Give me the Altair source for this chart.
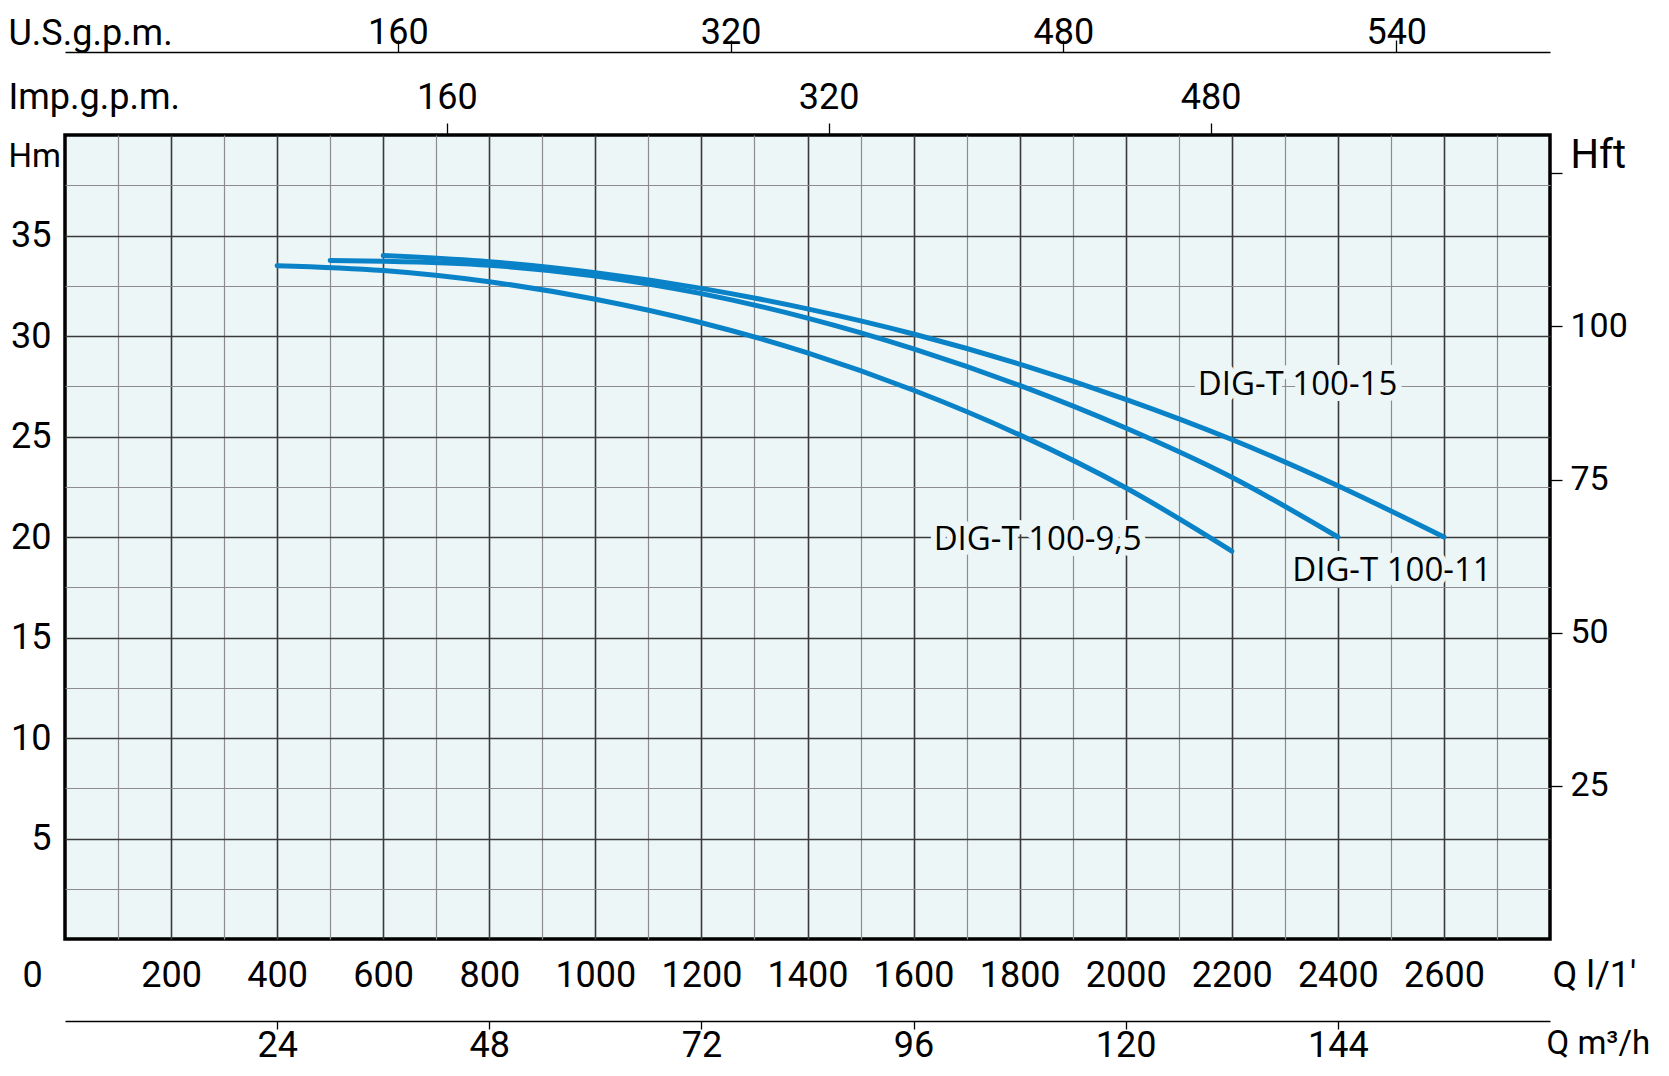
import altair as alt
import pandas as pd

# ---------------- data ----------------
# Q in l/min, H in m
q_95 = [400, 600, 800, 1000, 1200, 1400, 1600, 1800, 2000, 2200]
h_95 = [33.5, 33.26, 32.7, 31.83, 30.66, 29.16, 27.3, 25.08, 22.45, 19.3]
q_11 = [500, 600, 800, 1000, 1200, 1400, 1600, 1800, 2000, 2200, 2400]
h_11 = [33.76, 33.72, 33.52, 32.99, 32.11, 30.89, 29.36, 27.54, 25.42, 22.97, 20.0]
q_15 = [600, 800, 1000, 1200, 1400, 1600, 1800, 2000, 2200, 2400, 2600]
h_15 = [34.0, 33.7, 33.15, 32.37, 31.35, 30.1, 28.6, 26.85, 24.85, 22.55, 20.0]

label_text = ["DIG-T 100-15", "DIG-T 100-11", "DIG-T 100-9,5"]
label_q = [2324, 2502, 1834]
label_h = [27.55, 18.33, 19.86]

# axis ticks / labels
q_grid = list(range(0, 2801, 100))          # l/min grid, labels every 200
h_grid = [i * 2.5 for i in range(17)]       # m grid, labels every 5
m3_ticks = [24, 48, 72, 96, 120, 144]
imp_ticks = [160, 320, 480]
us_ticks = [160, 320, 480, 640]
us_labels = ["160", "320", "480", "540"]
ft_ticks = [25, 50, 75, 100, 125]

Q_MAX = 2800
H_MAX = 40
M3_MAX = Q_MAX * 0.06
IMP_MAX = Q_MAX / 4.5
US_MAX = Q_MAX / 3.922
FT_MAX = H_MAX * 3.28084

# ---------------- style ----------------
W, H = 1485, 804
BLUE = "#0a82c8"
BG = "#edf6f6"
NUM_FONT = "Roboto"
LBL_FONT = "Open Sans"
FS = 36

curve_df = pd.concat([
    pd.DataFrame({"q": q_95, "h": h_95, "model": "9,5"}),
    pd.DataFrame({"q": q_11, "h": h_11, "model": "11"}),
    pd.DataFrame({"q": q_15, "h": h_15, "model": "15"}),
])
label_df = pd.DataFrame({"q": label_q, "h": label_h, "txt": label_text})

xs = alt.Scale(domain=[0, Q_MAX], nice=False, zero=False)
ys = alt.Scale(domain=[0, H_MAX], nice=False, zero=False)

x_axis = alt.Axis(
    orient="bottom", values=q_grid, grid=True, ticks=False, domain=False, format="d",
    gridColor={"condition": {"test": "datum.value % 200 === 0", "value": "#3a3a3a"}, "value": "#8c8c8c"},
    gridWidth={"condition": {"test": "datum.value % 200 === 0", "value": 1.6}, "value": 1.2},
    gridOpacity={"condition": {"test": "datum.value === 0 || datum.value === 2800", "value": 0}, "value": 1},
    labelExpr="datum.value % 200 === 0 && datum.value < 2800 ? datum.label : ''",
    labelOffset={"condition": {"test": "datum.value === 0", "value": -33}, "value": 0},
    labelFont=NUM_FONT, labelFontSize=FS, labelColor="black", labelPadding=36,
    labelBaseline="middle", labelFlush=False, labelOverlap=False,
    title="Q l/1′", titleX=1487, titleY=36, titleAlign="left", titleBaseline="middle",
    titleAngle=0, titleFont=NUM_FONT, titleFontSize=FS, titleFontWeight="normal", titleColor="black",
)
y_axis = alt.Axis(
    orient="left", values=h_grid, grid=True, ticks=False, domain=False,
    gridColor={"condition": {"test": "datum.value % 5 === 0", "value": "#3a3a3a"}, "value": "#8c8c8c"},
    gridWidth={"condition": {"test": "datum.value % 5 === 0", "value": 1.6}, "value": 1.2},
    gridOpacity={"condition": {"test": "datum.value === 0 || datum.value === 40", "value": 0}, "value": 1},
    labelExpr="datum.value % 5 === 0 && datum.value > 0 && datum.value < 40 ? datum.label : ''",
    labelFont=NUM_FONT, labelFontSize=FS, labelColor="black", labelPadding=14,
    labelFlush=False, labelOverlap=False,
    title="Hm", titleX=-57, titleY=21, titleAlign="left", titleBaseline="middle", titleAngle=0,
    titleFont=NUM_FONT, titleFontSize=33, titleFontWeight="normal", titleColor="black",
)

halo = alt.Chart(label_df).mark_text(
    font=LBL_FONT, fontSize=33, align="center", baseline="middle",
    fill=BG, stroke=BG, strokeWidth=12, strokeJoin="round",
).encode(x=alt.X("q:Q", scale=xs), y=alt.Y("h:Q", scale=ys), text="txt:N")

curves = alt.Chart(curve_df).mark_line(
    color=BLUE, strokeWidth=5, strokeCap="round", interpolate="monotone"
).encode(
    x=alt.X("q:Q", scale=xs, axis=x_axis),
    y=alt.Y("h:Q", scale=ys, axis=y_axis),
    detail="model:N",
)

labels = alt.Chart(label_df).mark_text(
    font=LBL_FONT, fontSize=33, align="center", baseline="middle", color="black",
).encode(x=alt.X("q:Q", scale=xs), y=alt.Y("h:Q", scale=ys), text="txt:N")

main = alt.layer(halo, curves, labels)


def axis_common(**kw):
    base = dict(
        grid=False, labelFont=NUM_FONT, labelColor="black", labelFlush=False,
        labelOverlap=False, tickColor="black", tickWidth=1.3, tickSize=12,
        titleFont=NUM_FONT, titleFontWeight="normal", titleColor="black", titleAngle=0,
        titleAlign="left", titleBaseline="middle",
    )
    base.update(kw)
    return alt.Axis(**base)


us_expr = "datum.label"
for v, l in zip(us_ticks, us_labels):
    us_expr = f"datum.value === {v} ? '{l}' : ({us_expr})"

us_layer = alt.Chart(pd.DataFrame({"g": us_ticks})).mark_point(opacity=0).encode(
    x=alt.X("g:Q", scale=alt.Scale(domain=[0, US_MAX], nice=False, zero=False),
            axis=axis_common(orient="top", offset=83, values=us_ticks, labelExpr=us_expr,
                             domain=True, domainColor="black", domainWidth=1.5,
                             labelFontSize=FS, labelPadding=8, labelBaseline="middle",
                             title="U.S.g.p.m.", titleX=-57, titleY=-19, titleFontSize=FS))
)

imp_layer = alt.Chart(pd.DataFrame({"g": imp_ticks})).mark_point(opacity=0).encode(
    x=alt.X("g:Q", scale=alt.Scale(domain=[0, IMP_MAX], nice=False, zero=False),
            axis=axis_common(orient="top", offset=0, values=imp_ticks, domain=False,
                             labelFontSize=FS, labelPadding=26, labelBaseline="middle",
                             title="Imp.g.p.m.", titleX=-57, titleY=-38, titleFontSize=FS))
)

m3_layer = alt.Chart(pd.DataFrame({"m": m3_ticks})).mark_point(opacity=0).encode(
    x=alt.X("m:Q", scale=alt.Scale(domain=[0, M3_MAX], nice=False, zero=False),
            axis=axis_common(orient="bottom", offset=82, values=m3_ticks, tickSize=8,
                             domain=True, domainColor="black", domainWidth=1.5,
                             labelFontSize=FS, labelPadding=16, labelBaseline="middle",
                             title="Q m³/h", titleX=1481, titleY=22, titleFontSize=33))
)

ft_layer = alt.Chart(pd.DataFrame({"f": ft_ticks})).mark_point(opacity=0).encode(
    y=alt.Y("f:Q", scale=alt.Scale(domain=[0, FT_MAX], nice=False, zero=False),
            axis=axis_common(orient="right", offset=0, values=ft_ticks, domain=False,
                             labelExpr="datum.value === 125 ? '' : datum.label",
                             labelFontSize=34, labelPadding=8, labelBaseline="middle",
                             title="Hft", titleX=20, titleY=20, titleFontSize=40))
)

chart = alt.layer(main, us_layer, imp_layer, m3_layer, ft_layer).resolve_scale(
    x="independent", y="independent"
).properties(
    width=W, height=H,
    autosize=alt.AutoSizeParams(type="none"),
    padding={"left": 57, "top": 127, "right": 110, "bottom": 125},
).configure_view(fill=BG, stroke="black", strokeWidth=3.5)

chart.save("out.html", embed_options={"renderer": "svg", "actions": False})
